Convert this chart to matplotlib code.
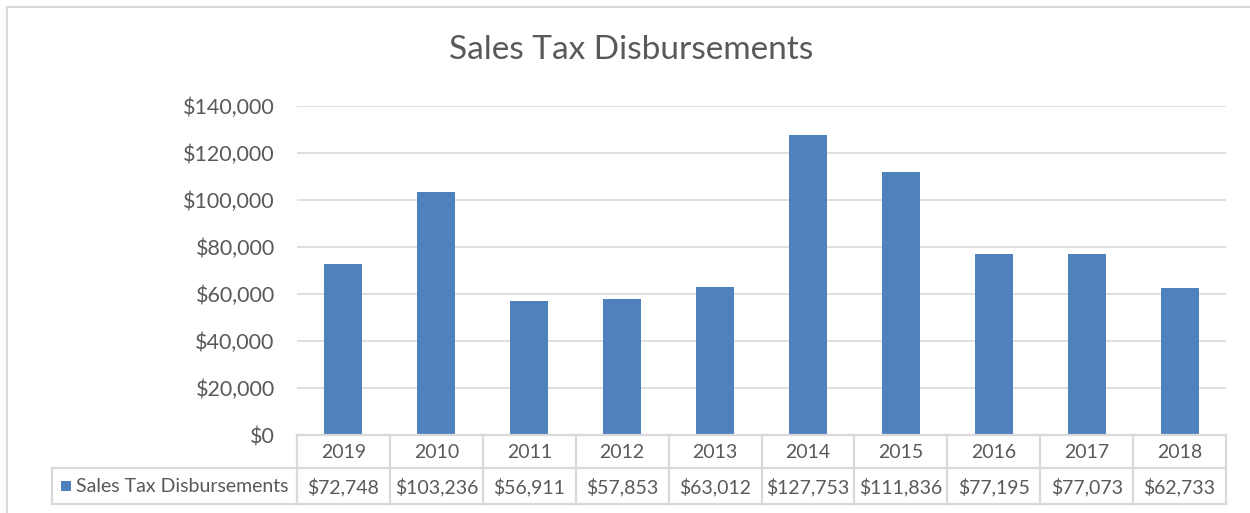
import matplotlib
matplotlib.use("Agg")
import matplotlib.pyplot as plt
from matplotlib.lines import Line2D
from matplotlib.patches import Rectangle
import matplotlib.transforms as mtransforms

years = ["2019", "2010", "2011", "2012", "2013", "2014", "2015", "2016", "2017", "2018"]
values = [72748, 103236, 56911, 57853, 63012, 127753, 111836, 77195, 77073, 62733]
series_name = "Sales Tax Disbursements"
title = "Sales Tax Disbursements"
yticks = [0, 20000, 40000, 60000, 80000, 100000, 120000, 140000]

W, H = 1250, 513
BAR = "#4F81BD"
GRID = "#D9D9D9"
TXT = "#595959"
plt.rcParams['font.family'] = ['Lato', 'DejaVu Sans']

fig = plt.figure(figsize=(W / 100, H / 100), dpi=100)
L, R, T, B = 297, 1226, 106, 435
ax = fig.add_axes([L / W, 1 - B / H, (R - L) / W, (B - T) / H])

x = list(range(len(years)))
ax.bar(x, values, width=0.41, color=BAR, zorder=3)
ax.set_xlim(-0.5, len(years) - 0.5)
ax.set_ylim(0, 140000)
ax.set_yticks(yticks)
ax.set_yticklabels(["${:,.0f}".format(v) for v in yticks], fontsize=15.5, color=TXT)
ax.tick_params(axis='y', length=0, pad=16)
ax.set_xticks([])
for s in ax.spines.values():
    s.set_visible(False)
ax.grid(axis='y', color=GRID, linewidth=1.2, zorder=0)
ax.set_axisbelow(True)

def fx(px):
    return px / W

def fy(py):
    return 1 - py / H

row_top, row_mid, row_bot = 435, 468, 504
leg_left = 52
lc = dict(color=GRID, linewidth=1.6, transform=fig.transFigure)
cw = (R - L) / len(years)
fig.add_artist(Line2D([fx(L), fx(R)], [fy(row_top), fy(row_top)], **lc))
fig.add_artist(Line2D([fx(leg_left), fx(R)], [fy(row_mid), fy(row_mid)], **lc))
fig.add_artist(Line2D([fx(leg_left), fx(R)], [fy(row_bot), fy(row_bot)], **lc))
fig.add_artist(Line2D([fx(leg_left), fx(leg_left)], [fy(row_mid), fy(row_bot)], **lc))
for i in range(len(years) + 1):
    xp = L + i * cw
    fig.add_artist(Line2D([fx(xp), fx(xp)], [fy(row_top), fy(row_bot)], **lc))

trans = mtransforms.blended_transform_factory(ax.transData, fig.transFigure)
for i, (yr, v) in enumerate(zip(years, values)):
    fig.text(i, fy((row_top + row_mid) / 2 + 1), yr, transform=trans, ha='center', va='center',
             fontsize=14, color=TXT)
    fig.text(i, fy((row_mid + row_bot) / 2 + 1), "${:,.0f}".format(v), transform=trans,
             ha='center', va='center', fontsize=14, color=TXT)

fig.add_artist(Rectangle((fx(61), fy(491)), 10 / W, 10 / H, transform=fig.transFigure,
                         facecolor=BAR, edgecolor='none'))
fig.text(fx(76), fy((row_mid + row_bot) / 2 + 1), series_name, ha='left', va='center',
         fontsize=14, color=TXT)

fig.text(fx(631), fy(50), title, ha='center', va='center', fontsize=24, color=TXT,
         fontweight='normal')

bc = dict(color=GRID, linewidth=1.5, transform=fig.transFigure)
fig.add_artist(Line2D([fx(7), fx(7)], [fy(7), 0], **bc))
fig.add_artist(Line2D([fx(7), 1], [fy(7), fy(7)], **bc))

fig.savefig("out.png", dpi=100, facecolor="white")
